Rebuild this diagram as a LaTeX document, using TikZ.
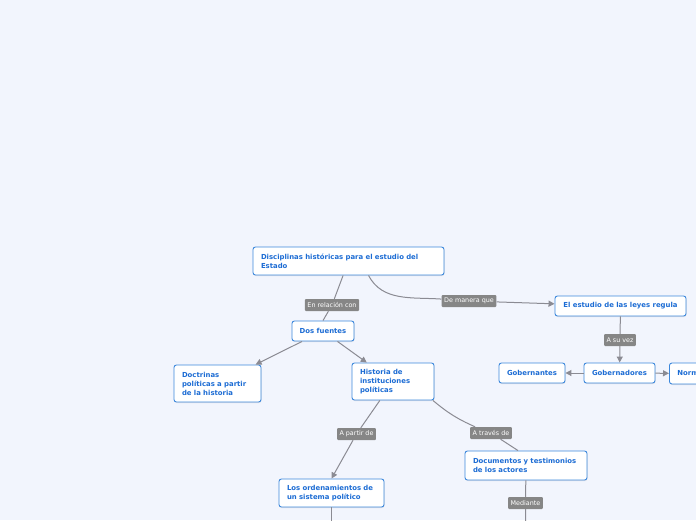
\documentclass[tikz,border=0pt]{standalone}
\usepackage{fontspec}
\setmainfont{DejaVu Sans}
\usetikzlibrary{arrows.meta,shadows}
\definecolor{bgcol}{HTML}{F2F5FD}
\definecolor{boxblue}{HTML}{3D88DC}
\definecolor{txtblue}{HTML}{1C6CD4}
\definecolor{taggray}{HTML}{868686}
\definecolor{linegray}{HTML}{8B8B93}
\tikzset{
  topic/.style={draw=boxblue, fill=white, rounded corners=2.5pt, line width=0.9pt,
    text=txtblue, font=\fontsize{6.9}{9}\selectfont\bfseries, inner xsep=8pt, inner ysep=4pt,
    drop shadow={opacity=0.18, shadow xshift=0.5pt, shadow yshift=-1pt}},
  ltopic/.style={topic, align=left, text width=#1},
  ctopic/.style={topic, align=center, minimum width=#1, minimum height=20pt, inner xsep=2pt},
  tag/.style={fill=taggray, rounded corners=1pt, text=white, font=\fontsize{6.4}{7}\selectfont,
    inner xsep=2.5pt, inner ysep=1.6pt, minimum height=12pt},
  link/.style={draw=linegray, line width=1pt},
  arr/.style={link, -{Triangle[length=6pt,width=6pt]}}
}
\begin{document}
\begin{tikzpicture}[x=1pt,y=-1pt]
\fill[bgcol] (0,0) rectangle (696,520);
\useasboundingbox (0,0) rectangle (696,520);
\clip (0,0) rectangle (696,520);
\node[ltopic=175pt, minimum height=28pt] (disc) at (348.5,261) {Disciplinas históricas para el estudio del\\Estado};
\node[ctopic=62pt] (dos) at (323,331) {Dos fuentes};
\node[ltopic=71pt, minimum height=37pt] (doct) at (217.5,383.5) {Doctrinas\\políticas a partir\\de la historia};
\node[ltopic=66pt, minimum height=37pt] (hist) at (393,381.5) {Historia de\\instituciones\\políticas};
\node[ltopic=89pt, minimum height=28pt] (orden) at (331.5,493) {Los ordenamientos de\\un sistema político};
\node[ltopic=106pt, minimum height=29pt] (docu) at (526,465.5) {Documentos y testimonios\\de los actores};
\node[tag] (rel) at (332,305) {En relación con};
\node[tag] (apartir) at (356.5,434) {A partir de};
\node[tag] (atraves) at (491,433) {A través de};
\node[tag] (mediante) at (525.5,503) {Mediante};
\coordinate (ordend) at (331.5,545);
\coordinate (docend) at (526,545);
\draw[link] (disc) to (rel);
\draw[link] (rel) to (dos.north);
\draw[arr] (dos) to (doct);
\draw[arr] (dos) to (hist);
\draw[link] (hist) to (apartir);
\draw[arr] (apartir) to (orden.north);
\draw[link] ([xshift=-1.5pt]hist.south east) to[bend right=8] (atraves);
\draw[link] (atraves) to ([xshift=-8pt]docu.north);
\draw[link] (docu) to (mediante);
\draw[link] (mediante) to (docend);
\draw[link] (orden) to (ordend);
%right graph
\node[ctopic=131pt] (estudio) at (620.5,306) {El estudio de las leyes regula};
\node[ctopic=71pt] (gobdores) at (619.5,373) {Gobernadores};
\node[ctopic=66pt] (gobtes) at (532,373) {Gobernantes};
\node[ltopic=50pt, anchor=west, minimum height=21pt] (norm) at (669,373.5) {Norm};
\node[tag] (manera) at (469,301) {De manera que};
\node[tag] (suvez) at (620,340) {A su vez};
\draw[link] ([xshift=20pt]disc.south) to[out=-62,in=176] (manera);
\draw[arr] (manera) to (estudio);
\draw[link] (estudio) to (suvez);
\draw[arr] (suvez) to (gobdores);
\draw[arr] (gobdores) to (gobtes);
\draw[arr] (gobdores) to (norm);
\end{tikzpicture}
\end{document}
